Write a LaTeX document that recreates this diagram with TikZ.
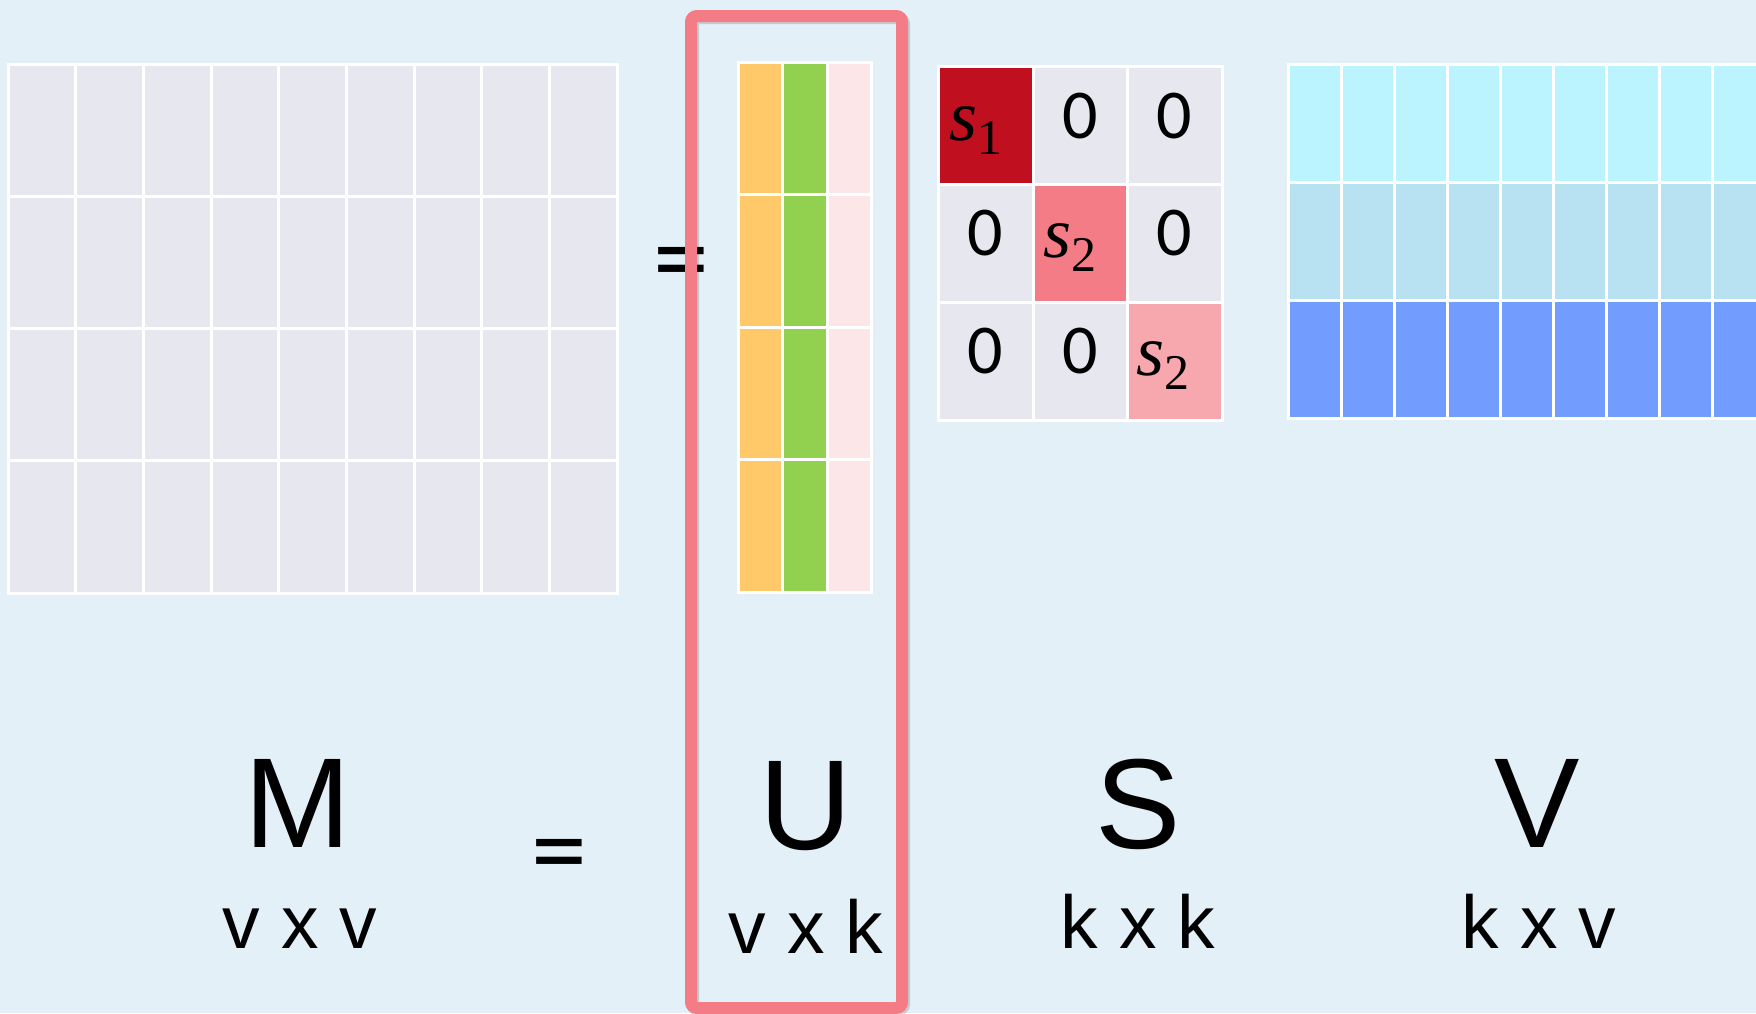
\documentclass[tikz,border=0pt]{standalone}
\usepackage{fontspec}
\setmainfont{Liberation Sans}
\newfontfamily\calfont{Carlito}
\newfontfamily\serfont{Liberation Serif}
\definecolor{bgc}{HTML}{E3F0F8}
\definecolor{cellc}{HTML}{E6E7EF}
\definecolor{uorange}{HTML}{FFC869}
\definecolor{ugreen}{HTML}{92D050}
\definecolor{upink}{HTML}{FDE6E8}
\definecolor{sone}{HTML}{C00F1F}
\definecolor{stwo}{HTML}{F47C87}
\definecolor{sthree}{HTML}{F7A8AE}
\definecolor{vone}{HTML}{BBF3FE}
\definecolor{vtwo}{HTML}{B8E1F1}
\definecolor{vthree}{HTML}{729DFE}
\definecolor{boxred}{HTML}{F47C87}
\newcommand\svar[1]{{\serfont\itshape s}\raisebox{-7pt}{\serfont\fontsize{25}{25}\selectfont #1}}
\tikzset{
  cell/.style={draw=white, line width=1.5pt},
  bigletter/.style={anchor=base, inner sep=0pt, font=\fontsize{64}{70}\selectfont},
  dimlabel/.style={anchor=base, inner sep=0pt, font=\fontsize{37.5}{40}\selectfont},
  eqsign/.style={inner sep=0pt, font=\calfont\fontsize{56}{60}\selectfont},
  zero/.style={inner sep=0pt, font=\calfont\fontsize{35}{40}\selectfont},
  sval/.style={inner sep=0pt, font=\serfont\fontsize{36}{40}\selectfont},
  redbox/.style={draw=boxred, line width=6pt, rounded corners=3pt},
}
\begin{document}
\begin{tikzpicture}[x=0.5pt,y=-0.5pt]
\fill[bgc] (0,0) rectangle (1756,1013);
\useasboundingbox (0,0) rectangle (1756,1013);
% M matrix 9 x 4
\foreach \i in {0,...,8}{
  \foreach \j in {0,...,3}{
    \filldraw[cell, fill=cellc] ({8+\i*67.67},{64+\j*132.25}) rectangle +(67.67,132.25);
  }
}
% U matrix 3 x 4
\foreach \j in {0,...,3}{
  \filldraw[cell, fill=uorange] (738,{62+\j*132.5}) rectangle +(44.5,132.5);
  \filldraw[cell, fill=ugreen] (782.5,{62+\j*132.5}) rectangle +(44.5,132.5);
  \filldraw[cell, fill=upink] (827,{62+\j*132.5}) rectangle +(44.5,132.5);
}
% S matrix 3 x 3
\foreach \i in {0,1,2}{
  \foreach \j in {0,1,2}{
    \filldraw[cell, fill=cellc] ({938.5+\i*94.5},{66+\j*118.3}) rectangle +(94.5,118.3);
  }
}
\filldraw[cell, fill=sone] (938.5,66) rectangle +(94.5,118.3);
\filldraw[cell, fill=stwo] (1033,184.3) rectangle +(94.5,118.3);
\filldraw[cell, fill=sthree] (1127.5,302.6) rectangle +(94.5,118.3);
% V matrix 9 x 3
\foreach \i in {0,...,8}{
  \filldraw[cell, fill=vone] ({1288+\i*53.1},64) rectangle +(53.1,118.3);
  \filldraw[cell, fill=vtwo] ({1288+\i*53.1},182.3) rectangle +(53.1,118.3);
  \filldraw[cell, fill=vthree] ({1288+\i*53.1},300.6) rectangle +(53.1,118.3);
}
% S entries
\node[sval] (s11) at (976,131) {\svar{1}};
\node[zero] (s12) at (1080,116) {0};
\node[zero] (s13) at (1174,116) {0};
\node[zero] (s21) at (985,233) {0};
\node[sval] (s22) at (1070,248) {\svar{2}};
\node[zero] (s23) at (1174,233) {0};
\node[zero] (s31) at (985,351) {0};
\node[zero] (s32) at (1080,351) {0};
\node[sval] (s33) at (1163,366) {\svar{2}};
% equals signs
\node[eqsign] (eqtop) at (681,271) {=};
\node[eqsign] (eqbot) at (559,863) {=};
% highlight box
\draw[redbox, draw=black, opacity=0.15] (693,18) rectangle (904,1010);
\draw[redbox] (691,16) rectangle (902,1008);
% labels
\node[bigletter] (lM) at (298,847) {M};
\node[bigletter] (lU) at (806,849) {U};
\node[bigletter] (lS) at (1138,848) {S};
\node[bigletter] (lV) at (1537,847) {V};
\node[dimlabel] (dM) at (300,948) {v x v};
\node[dimlabel] (dU) at (806,953) {v x k};
\node[dimlabel] (dS) at (1138,948) {k x k};
\node[dimlabel] (dV) at (1539,948) {k x v};
\end{tikzpicture}
\end{document}
